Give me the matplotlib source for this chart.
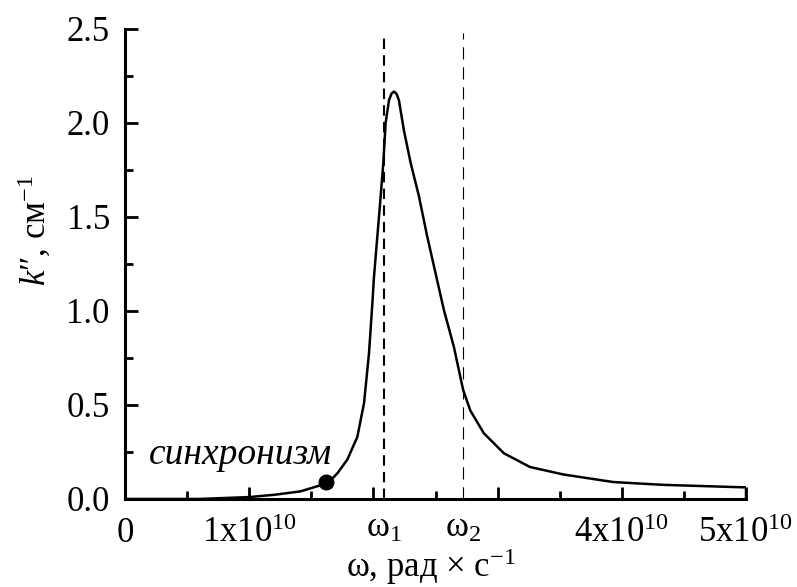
import matplotlib
matplotlib.use('Agg')
import matplotlib.pyplot as plt
from matplotlib.ticker import MultipleLocator, FixedLocator, FixedFormatter

plt.rcParams['font.family'] = ['Liberation Serif', 'DejaVu Serif']
plt.rcParams['mathtext.fontset'] = 'custom'
plt.rcParams['mathtext.rm'] = 'Liberation Serif'
plt.rcParams['mathtext.it'] = 'Liberation Serif:italic'

# curve (omega in rad/s, k'' in 1/cm)
omega = [0.0, 0.6e10, 1.0e10, 1.2e10, 1.41e10, 1.56e10, 1.62e10, 1.656e10, 1.71e10,
         1.79e10, 1.87e10, 1.924e10, 1.964e10, 1.991e10, 2.004e10, 2.031e10,
         2.058e10, 2.079e10, 2.098e10, 2.125e10, 2.145e10, 2.165e10, 2.185e10,
         2.205e10, 2.245e10, 2.30e10, 2.366e10, 2.433e10, 2.50e10,
         2.567e10, 2.647e10, 2.722e10, 2.78e10, 2.888e10, 3.05e10, 3.26e10,
         3.53e10, 3.93e10, 4.33e10, 4.97e10, 5.0e10, 5.0e10]
k2 = [0.0, 0.0, 0.01, 0.022, 0.04, 0.07, 0.09, 0.10, 0.137,
      0.21, 0.33, 0.51, 0.775, 1.04, 1.18, 1.395,
      1.61, 1.785, 2.0, 2.12, 2.155, 2.166, 2.155,
      2.12, 1.96, 1.785, 1.61, 1.395, 1.20,
      1.005, 0.81, 0.58, 0.47, 0.35, 0.243, 0.17,
      0.13, 0.09, 0.075, 0.062, 0.062, 0.0]

omega_1 = 2.085e10
omega_2 = 2.722e10
sync_point = (1.62e10, 0.09)

x_major = [0, 1e10, 2e10, 3e10, 4e10, 5e10]
x_labels = ['0', '1x10$^{10}$', '', '', '4x10$^{10}$', '5x10$^{10}$']

fig = plt.figure(figsize=(7.97, 5.87), dpi=100)
ax = fig.add_axes([0.157, 0.15, 0.779, 0.801])

ax.plot(omega, k2, color='black', lw=1.8, solid_joinstyle='round')
ax.plot(*sync_point, 'o', color='black', markersize=10.5)
ax.axvline(omega_1, ymax=0.99, color='black', lw=1.5, dashes=(5, 3))
ax.axvline(omega_2, ymax=0.99, color='black', lw=0.8, dashes=(11, 7))

ax.text(0.93e10, 0.235, 'синхронизм', style='italic', fontsize=27,
        ha='center', va='center')

ax.set_xlim(0, 5e10)
ax.set_ylim(0, 2.5)

ax.xaxis.set_major_locator(FixedLocator(x_major))
ax.xaxis.set_major_formatter(FixedFormatter(x_labels))
ax.xaxis.set_minor_locator(MultipleLocator(0.5e10))
ax.yaxis.set_major_locator(MultipleLocator(0.5))
ax.yaxis.set_minor_locator(MultipleLocator(0.25))
ax.yaxis.set_major_formatter(plt.FuncFormatter(lambda v, p: f'{v:.1f}'))

ax.tick_params(which='both', direction='in', width=2, labelsize=25)
ax.tick_params(which='major', length=9)
ax.tick_params(which='minor', length=6)
ax.tick_params(axis='y', pad=11)
ax.tick_params(axis='x', pad=31)
for t in ax.get_xticklabels():
    t.set_verticalalignment('baseline')

# omega tick labels under the dashed lines
trans = ax.get_xaxis_transform()
for w, name in [(omega_1, 'ω$_1$'), (omega_2, 'ω$_2$')]:
    ax.text(w, -0.08, name, transform=trans, fontsize=25, ha='center', va='baseline')

for side in ['top', 'right']:
    ax.spines[side].set_visible(False)
for side in ['left', 'bottom']:
    ax.spines[side].set_linewidth(2.2)

ax.set_xlabel('ω, рад × с$^{-1}$', fontsize=25, va='baseline')
ax.xaxis.set_label_coords(0.493, -0.166)
ax.set_ylabel('$k$″, см$^{-1}$', fontsize=25, va='center')
ax.yaxis.set_label_coords(-0.145, 0.572)

fig.savefig('out.png', dpi=100)
